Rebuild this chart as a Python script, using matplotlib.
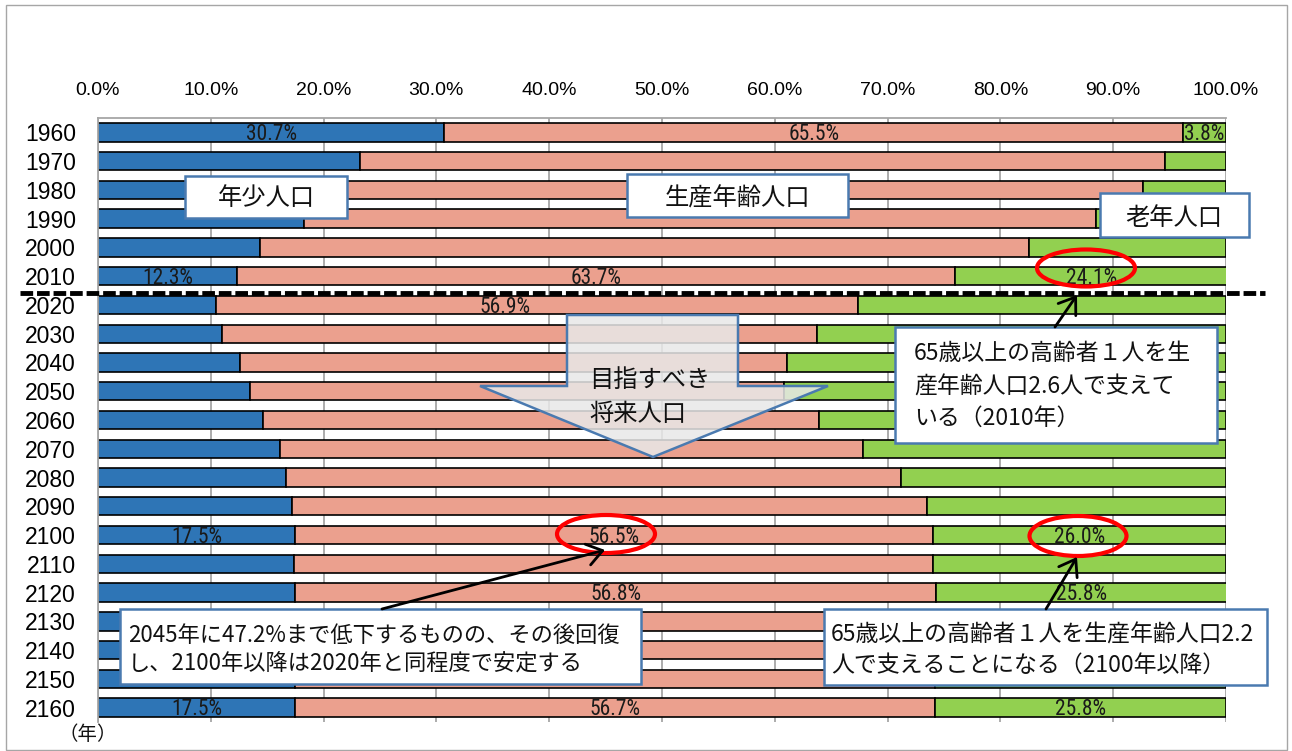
import matplotlib
matplotlib.use('Agg')
import matplotlib.pyplot as plt
from matplotlib.patches import Rectangle, Polygon, Ellipse, FancyArrowPatch
from matplotlib.lines import Line2D
from matplotlib.transforms import Affine2D
from matplotlib import font_manager

# ---------------- data ----------------
years = [1960, 1970, 1980, 1990, 2000, 2010, 2020, 2030, 2040, 2050, 2060,
         2070, 2080, 2090, 2100, 2110, 2120, 2130, 2140, 2150, 2160]
young = [30.7, 23.2, 21.0, 18.3, 14.4, 12.3, 10.5, 11.0, 12.6, 13.5, 14.6,
         16.1, 16.7, 17.2, 17.5, 17.4, 17.5, 17.5, 17.5, 17.5, 17.5]
working = [65.5, 71.4, 71.6, 70.2, 68.1, 63.7, 56.9, 52.7, 48.5, 47.3, 49.3,
           51.7, 54.5, 56.3, 56.5, 56.6, 56.8, 56.7, 56.7, 56.7, 56.7]
old = [3.8, 5.4, 7.4, 11.5, 17.5, 24.1, 32.6, 36.3, 38.9, 39.2, 36.1,
       32.2, 28.8, 26.5, 26.0, 26.0, 25.8, 25.8, 25.8, 25.8, 25.8]
xticks = [0, 10, 20, 30, 40, 50, 60, 70, 80, 90, 100]
xtick_labels = ["0.0%", "10.0%", "20.0%", "30.0%", "40.0%", "50.0%",
                "60.0%", "70.0%", "80.0%", "90.0%", "100.0%"]
labels_young = [1960, 2010, 2100, 2160]
labels_working = [1960, 2010, 2020, 2100, 2120, 2160]
labels_old = [1960, 2010, 2100, 2120, 2160]

series_names = ["年少人口", "生産年齢人口", "老年人口"]
note_2010 = ["65歳以上の高齢者１人を生", "産年齢人口2.6人で支えて", "いる（2010年）"]
note_2045 = ["2045年に47.2%まで低下するものの、その後回復",
             "し、2100年以降は2020年と同程度で安定する"]
note_2100 = ["65歳以上の高齢者１人を生産年齢人口2.2", "人で支えることになる（2100年以降）"]
arrow_text = ["目指すべき", "将来人口"]
year_unit = "（年）"

# ---------------- styles ----------------
W, H = 1292, 751
c_young = '#2E75B6'
c_work = '#EBA08E'
c_old = '#92D050'
c_box = '#4A7AB0'
c_grid = '#A6A6A6'

ttf = font_manager.fontManager.ttflist
names = {f.name for f in ttf}
latin = 'Liberation Sans' if 'Liberation Sans' in names else 'DejaVu Sans'
narrow_props = None
for cand in ['Liberation Sans Narrow', 'Arial Narrow', 'Roboto Condensed',
             'Open Sans Condensed', 'DejaVu Sans Condensed']:
    if cand in names:
        narrow_props = dict(family=cand, fontsize=15 if 'Narrow' in cand else 15.5)
        break
if narrow_props is None:
    cond = [f for f in ttf if str(f.stretch) in ('condensed', 'semi-condensed', '75', '87')
            and f.weight in ('normal', 400, 'regular', 'book')]
    if cond:
        narrow_props = dict(family=cond[0].name, fontstretch=cond[0].stretch, fontsize=15.5)
    else:
        narrow_props = dict(family=latin, fontsize=13)
cjk = ['Noto Sans CJK JP', 'DejaVu Sans']

fig = plt.figure(figsize=(W / 100, H / 100), dpi=100)
ax_top, ax_bot, ax_l, ax_r = 118, 722, 98, 1226
ax = fig.add_axes([ax_l / W, 1 - ax_bot / H, (ax_r - ax_l) / W, (ax_bot - ax_top) / H])

pos = list(range(len(years)))
left_old = [y + w for y, w in zip(young, working)]
bh = 0.64
ax.barh(pos, young, height=bh, color=c_young, edgecolor='black', linewidth=1.2, zorder=2)
ax.barh(pos, working, left=young, height=bh, color=c_work, edgecolor='black', linewidth=1.2, zorder=2)
ax.barh(pos, old, left=left_old, height=bh, color=c_old, edgecolor='black', linewidth=1.2, zorder=2)

ax.set_xlim(0, 100)
ax.set_ylim(len(years) - 0.5, -0.5)
ax.xaxis.tick_top()
ax.set_xticks(xticks)
ax.set_xticklabels(xtick_labels, fontsize=14, family=latin)
ax.set_yticks(pos)
ax.set_yticklabels([str(y) for y in years], fontsize=16.5, family=latin)
ax.tick_params(axis='x', length=0, pad=14)
ax.tick_params(axis='y', length=0, pad=16)
ax.set_axisbelow(True)
ax.grid(axis='x', color=c_grid, linewidth=1.3)
for s in ['right', 'bottom']:
    ax.spines[s].set_visible(False)
for s in ['top', 'left']:
    ax.spines[s].set_color(c_grid)
    ax.spines[s].set_linewidth(1.3)

def dlabel(x, i, v):
    ax.text(x, i + 0.27, f"{v:.1f}%", ha='center', va='baseline',
            color='#1a1a1a', zorder=6, **narrow_props)

for i, yr in enumerate(years):
    if yr in labels_young:
        dlabel(young[i] / 2, i, young[i])
    if yr in labels_working:
        xc = young[i] + working[i] / 2
        if yr == 2020:
            xc = 36.1
        dlabel(xc, i, working[i])
    if yr in labels_old:
        dlabel(left_old[i] + old[i] / 2, i, old[i])

# pixel transform (origin top-left)
pix = Affine2D().scale(1 / W, -1 / H).translate(0, 1) + fig.transFigure

# outer frame
fig.add_artist(Rectangle((6, 5), 1281, 745, transform=pix, fill=False,
                         edgecolor=c_grid, linewidth=1, zorder=1))

# dashed separator
fig.add_artist(Line2D([20, 1265], [293, 293], transform=pix, color='black',
                      linewidth=3.5, linestyle=(0, (2.6, 0.8)), zorder=3))

def box(x0, y0, x1, y1):
    fig.add_artist(Rectangle((x0, y0), x1 - x0, y1 - y0, transform=pix,
                             facecolor='white', edgecolor=c_box, linewidth=1.8, zorder=5))

def ptext(x, y, s, size, ha='left'):
    fig.text(x, y, s, transform=pix, ha=ha, va='center', fontsize=size,
             family=cjk, color='#111111', zorder=7)

# series name boxes
box(185, 176, 347, 218)
ptext(266, 198, series_names[0], 17.5, ha='center')
box(627, 174, 848, 217)
ptext(737, 199, series_names[1], 17.5, ha='center')
box(1100, 193, 1249, 237)
ptext(1174, 218, series_names[2], 17.5, ha='center')

# block arrow
arrow_poly = [(567, 315), (738, 315), (738, 386), (828, 386), (653, 457),
              (480, 386), (567, 386)]
fig.add_artist(Polygon(arrow_poly, closed=True, transform=pix, facecolor='#E8E8E8',
                       alpha=0.85, edgecolor='none', zorder=4))
fig.add_artist(Polygon(arrow_poly, closed=True, transform=pix, fill=False,
                       edgecolor=c_box, linewidth=1.8, zorder=4))
ptext(589, 380, arrow_text[0], 17.5)
ptext(589, 414, arrow_text[1], 17.5)

# red ellipses
for (cx, cy, w, h) in [(1086, 268, 98, 37), (606, 534, 98, 38), (1078, 536, 97, 40)]:
    fig.add_artist(Ellipse((cx, cy), w, h, transform=pix, fill=False,
                           edgecolor='#FF0000', linewidth=3, zorder=6))

# callout boxes
box(895, 327, 1217, 443)
for k, yy in enumerate([353, 387, 418]):
    ptext(914, yy, note_2010[k], 16.5)
box(120, 609, 641, 684)
for k, yy in enumerate([635, 664]):
    ptext(128, yy, note_2045[k], 16)
box(824, 609, 1267, 685)
for k, yy in enumerate([635, 665]):
    ptext(831, yy, note_2100[k], 16.5)

# arrows
for (a, b) in [((1055, 327), (1077, 295)), ((382, 609), (605, 550)), ((1046, 609), (1077, 557))]:
    fig.add_artist(FancyArrowPatch(a, b, transform=pix, arrowstyle='->,head_length=0.5,head_width=0.35',
                                   mutation_scale=22, linewidth=2, color='black',
                                   shrinkA=0, shrinkB=0, zorder=6))

ptext(58, 735, year_unit, 14, ha='left')

fig.savefig('out.png', dpi=100)
